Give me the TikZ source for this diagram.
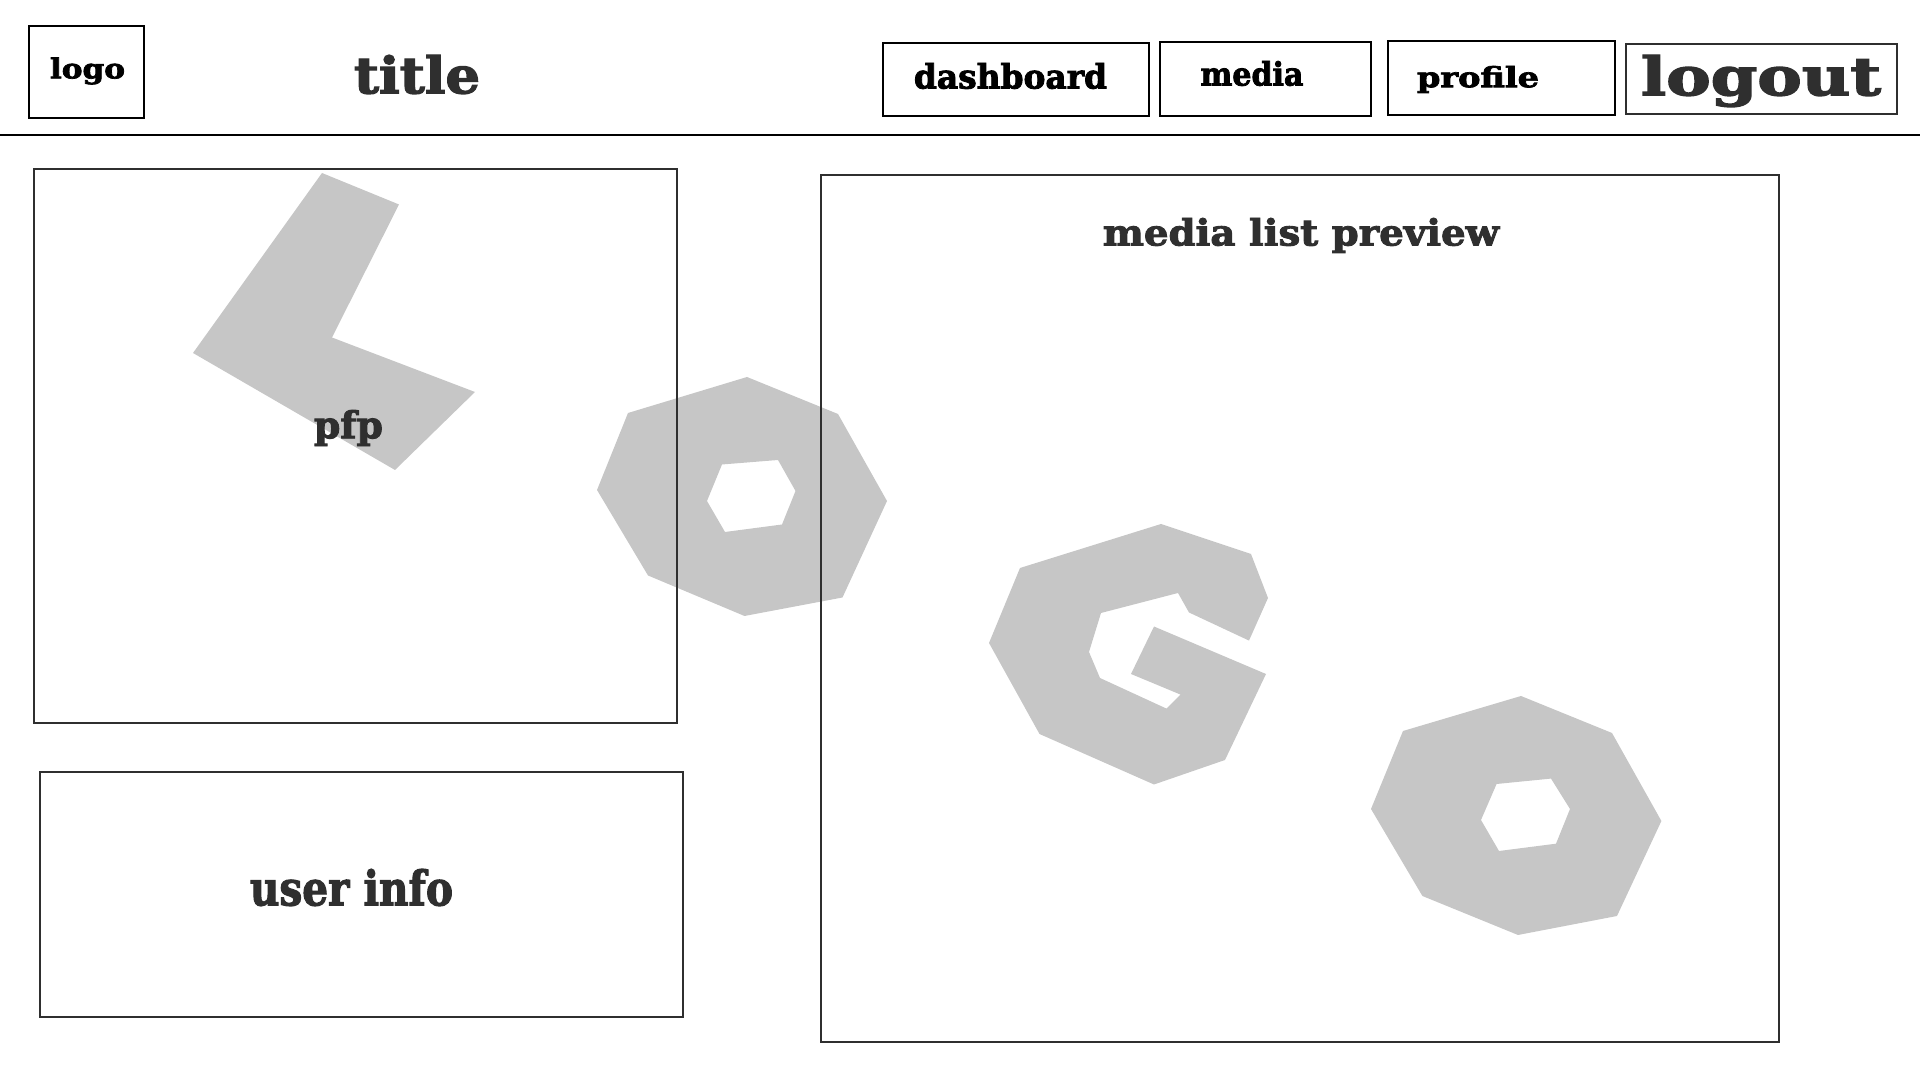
\documentclass[tikz,border=0pt]{standalone}
\usepackage{fontspec}
\usepackage{graphicx}
\setmainfont{DejaVu Serif}[BoldFeatures={FakeBold=2.5}]
\definecolor{ink}{HTML}{2F2F2F}
\definecolor{blob}{HTML}{C6C6C6}
% label squeezed to a given width and height (in hundredths of a cm)
\newcommand{\wobbly}[3]{\resizebox*{#1mm}{#2mm}{\bfseries #3}}
\tikzset{
    framebox/.style={draw=ink, line width=0.6pt},
    navbox/.style={draw=black, line width=0.6pt},
    label/.style={inner sep=0pt, text=ink},
    navlabel/.style={inner sep=0pt, text=black},
    blobfill/.style={fill=blob, even odd rule}
}
\begin{document}
\begin{tikzpicture}[x=0.01cm, y=-0.01cm]
    \useasboundingbox (0,0) rectangle (1920,1080);

    % Grey sketch letters
    \fill[blobfill] (322,173) -- (399,204.5) -- (332,337.5) -- (475,392) -- (395,470) -- (193,353) -- cycle;
    \fill[blobfill] (747,377) -- (838,414) -- (887,501) -- (842.5,597.5) -- (744.5,616) -- (648,575.5) -- (597,490) -- (628,413) -- cycle
        (722,464.5) -- (778,460) -- (795.5,491) -- (782,524.5) -- (725,532) -- (707,501) -- cycle;
    \fill[blobfill] (1161,524) -- (1251,554) -- (1268,598) -- (1249,640.6) -- (1189,612.5) -- (1178,593) -- (1101,613)
        -- (1089,652) -- (1100,678) -- (1166.5,708.6) -- (1180.5,694.6) -- (1131,674) -- (1154,626.5) -- (1266,674)
        -- (1225,760) -- (1154,784.5) -- (1039.5,734) -- (989,643) -- (1020,568) -- cycle;
    \fill[blobfill] (1521,696) -- (1612,733) -- (1661.4,821) -- (1617,916) -- (1518,935) -- (1422.4,896) -- (1371,809) -- (1403,731) -- cycle
        (1496.6,784) -- (1551,778.6) -- (1570,809) -- (1556,843.7) -- (1499,851) -- (1481,820) -- cycle;

    % Header
    \draw[navbox] (0,135) -- (1920,135);
    \draw[navbox] (29,26) rectangle (144,118);
    \draw[navbox] (883,43) rectangle (1149,116);
    \draw[navbox] (1160,42) rectangle (1371,116);
    \draw[navbox] (1388,41) rectangle (1615,115);
    \draw[framebox] (1626,44) rectangle (1897,114);

    \node[navlabel] (logo) at (87.5,71) {\wobbly{7.5}{2.7}{logo}};
    \node[label] (title) at (417,74.5) {\wobbly{12.6}{3.9}{title}};
    \node[navlabel] (dashboard) at (1010.5,76) {\wobbly{19.3}{2.6}{dashboard}};
    \node[navlabel] (media) at (1252,73.5) {\wobbly{10.3}{2.5}{media}};
    \node[navlabel] (profile) at (1478,79.5) {\wobbly{12.2}{2.7}{profile}};
    \node[label] (logout) at (1761,81) {\wobbly{24}{5.2}{logout}};

    % Left column
    \draw[framebox] (34,169) rectangle (677,723);
    \node[label] (pfp) at (348.5,428) {\wobbly{6.9}{3.6}{pfp}};
    \draw[framebox] (40,772) rectangle (683,1017);
    \node[label] (userinfo) at (351.5,887.5) {\wobbly{20.3}{3.7}{user info}};

    % Media list
    \draw[framebox] (821,175) rectangle (1779,1042);
    \node[label] (medialist) at (1301,235.5) {\wobbly{39.6}{3.5}{media list preview}};
\end{tikzpicture}
\end{document}
